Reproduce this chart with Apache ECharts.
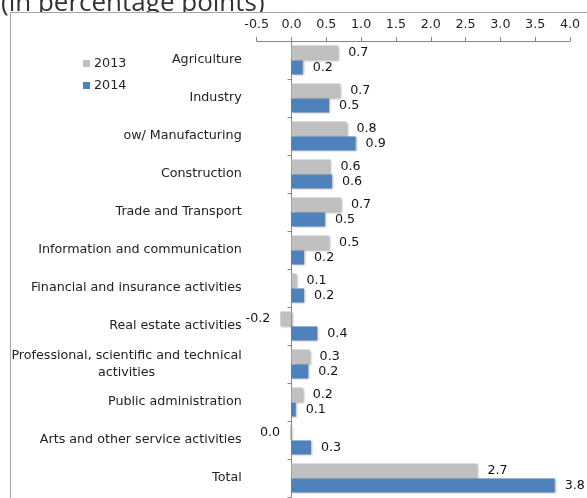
<!DOCTYPE html>
<html>
<head>
<meta charset="utf-8">
<script src="https://cdn.jsdelivr.net/npm/echarts@6/dist/echarts.min.js"></script>
<style>
  html, body { margin: 0; padding: 0; background: #fff; }
  #chart { width: 587px; height: 498px; }
</style>
</head>
<body>
<div id="chart"></div>
<script>
const categories = [
  "Agriculture",
  "Industry",
  "ow/ Manufacturing",
  "Construction",
  "Trade and Transport",
  "Information and communication",
  "Financial and insurance activities",
  "Real estate activities",
  "Professional, scientific and technical\nactivities",
  "Public administration",
  "Arts and other service activities",
  "Total",
];
const values2013 = [0.67, 0.7, 0.79, 0.56, 0.71, 0.54, 0.07, -0.16, 0.26, 0.16, -0.02, 2.67];
const values2014 = [0.16, 0.54, 0.92, 0.58, 0.48, 0.18, 0.18, 0.37, 0.24, 0.06, 0.28, 3.78];

const FONT = "DejaVu Sans";
const FS = 12.7;

const fmt = (v) => {
  const s = Number(v).toFixed(1);
  return s === "-0.0" ? "0.0" : s;
};

const barData = (arr) =>
  arr.map((v) => ({ value: v, label: { position: v < 0 ? "left" : "right" } }));

const chart = echarts.init(document.getElementById("chart"));

chart.setOption({
  backgroundColor: "#fff",
  animation: false,
  graphic: [
    {
      type: "text",
      z: -10,
      left: 1,
      top: -9,
      style: {
        text: "(in percentage points)",
        font: "26px 'Open Sans'",
        fill: "#333",
      },
    },
    {
      type: "rect",
      z: -5,
      shape: { x: 10.5, y: 12.5, width: 600, height: 500 },
      style: { fill: "#fff", stroke: "#a6a6a6", lineWidth: 1 },
    },
  ],
  legend: {
    orient: "vertical",
    left: 83,
    top: 56.5,
    padding: 0,
    itemWidth: 7,
    itemHeight: 7,
    itemGap: 8,
    icon: "rect",
    selectedMode: false,
    textStyle: { fontFamily: FONT, fontSize: FS, color: "#222", lineHeight: 14, padding: [0, 0, 0, -1] },
    data: ["2013", "2014"],
  },
  grid: { left: 256.7, right: 17, top: 41, bottom: 1, outerBoundsMode: "none" },
  xAxis: {
    type: "value",
    position: "top",
    min: -0.5,
    max: 4,
    interval: 0.5,
    splitLine: { show: false },
    axisLine: { show: true, lineStyle: { color: "#868686" } },
    axisTick: { show: true, length: 4, lineStyle: { color: "#868686" } },
    axisLabel: {
      margin: 10,
      formatter: (v) => fmt(v),
      fontFamily: FONT,
      fontSize: FS,
      color: "#222",
    },
  },
  yAxis: {
    type: "category",
    inverse: true,
    data: categories,
    axisLine: { show: true, onZero: true, lineStyle: { color: "#868686" } },
    axisTick: { show: true, length: 4, lineStyle: { color: "#868686" } },
    axisLabel: {
      interval: 0,
      margin: 15,
      fontFamily: FONT,
      fontSize: FS,
      color: "#222",
      lineHeight: 17,
      formatter: (v) => v.split("\n").map((l) => "{c|" + l + "}").join("\n"),
      rich: { c: { align: "center", fontFamily: FONT, fontSize: FS, color: "#222", lineHeight: 17 } },
    },
  },
  series: [
    {
      name: "2013",
      type: "bar",
      data: barData(values2013),
      barWidth: 14,
      barGap: "7%",
      itemStyle: {
        color: "#c0c0c0",
        shadowColor: "rgba(0,0,0,0.3)",
        shadowBlur: 2,
        shadowOffsetX: 1,
        shadowOffsetY: 1,
      },
      label: {
        show: true,
        distance: 10,
        formatter: (p) => fmt(p.value),
        fontFamily: FONT,
        fontSize: FS,
        color: "#111",
      },
    },
    {
      name: "2014",
      type: "bar",
      data: barData(values2014),
      barWidth: 14,
      itemStyle: {
        color: "#4f81bd",
        shadowColor: "rgba(0,0,0,0.3)",
        shadowBlur: 2,
        shadowOffsetX: 1,
        shadowOffsetY: 1,
      },
      label: {
        show: true,
        distance: 10,
        formatter: (p) => fmt(p.value),
        fontFamily: FONT,
        fontSize: FS,
        color: "#111",
      },
    },
  ],
});
</script>
</body>
</html>
